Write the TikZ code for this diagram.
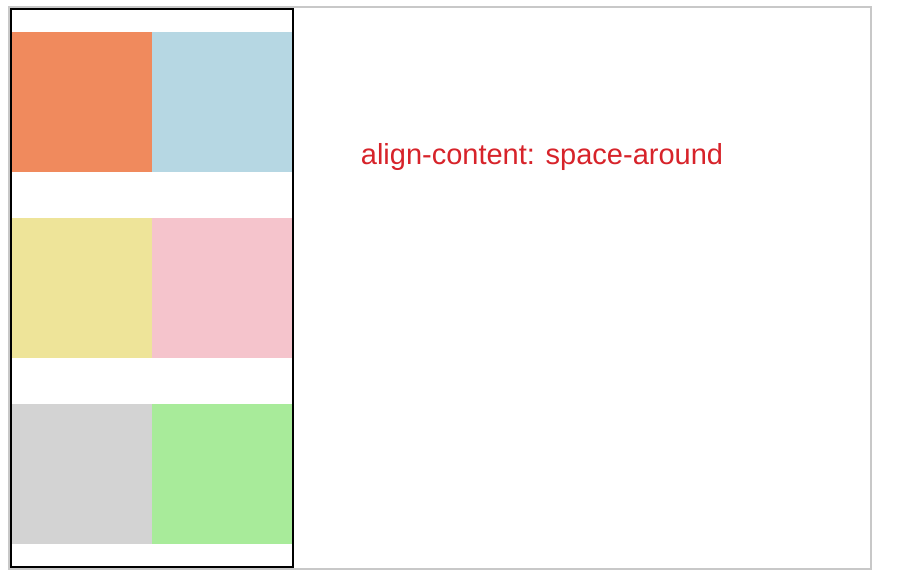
\documentclass[tikz,border=0pt]{standalone}
\usepackage{fontspec}
\setmainfont{Liberation Sans}
\definecolor{cOrange}{RGB}{240,138,93}
\definecolor{cBlue}{RGB}{182,215,227}
\definecolor{cKhaki}{RGB}{238,228,153}
\definecolor{cPink}{RGB}{245,196,204}
\definecolor{cGray}{RGB}{211,211,211}
\definecolor{cGreen}{RGB}{168,235,154}
\definecolor{cRed}{RGB}{215,35,42}
\definecolor{cFrame}{RGB}{200,200,200}
\begin{document}
\begin{tikzpicture}[x=1pt,y=-1pt,
  cell/.style={draw=none,inner sep=0pt,outer sep=0pt,minimum width=140pt,minimum height=140pt,anchor=north west},
  label/.style={text=cRed,font=\fontsize{29}{34}\selectfont,inner sep=0pt,anchor=base}]
\useasboundingbox (0,0) rectangle (900,576);
\fill[white] (0,0) rectangle (900,576);
\draw[cFrame,line width=2pt] (9,7) rectangle (871,569);
\node[cell,fill=cOrange] (c1) at (12,32) {};
\node[cell,fill=cBlue] (c2) at (152,32) {};
\node[cell,fill=cKhaki] (c3) at (12,218) {};
\node[cell,fill=cPink] (c4) at (152,218) {};
\node[cell,fill=cGray] (c5) at (12,404) {};
\node[cell,fill=cGreen] (c6) at (152,404) {};
\draw[black,line width=2pt] (11,9) rectangle (293,567);
\node[label] (t) at (542,164) {align-content: space-around};
\end{tikzpicture}
\end{document}
